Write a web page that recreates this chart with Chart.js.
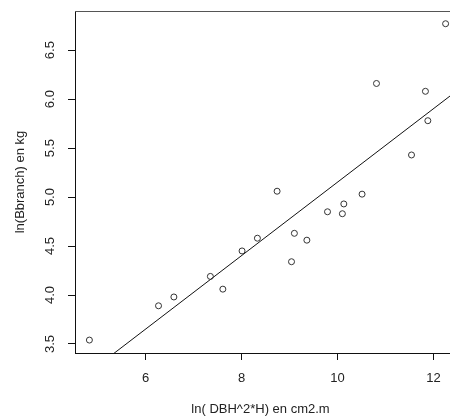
<!DOCTYPE html>
<html>
<head>
<meta charset="utf-8">
<script src="https://cdn.jsdelivr.net/npm/chart.js@4/dist/chart.umd.min.js"></script>
<style>
    html, body { margin: 0; padding: 0; background: #fff; overflow: hidden; }
    #wrap { width: 450px; height: 419px; overflow: hidden; }
</style>
</head>
<body>
<div id="wrap"><canvas id="plot" width="470" height="419"></canvas></div>
<script>
// ln(DBH^2*H) vs ln(Bbranch)
const lnDbh2H = [4.83, 6.27, 6.59, 7.35, 7.61, 8.01, 8.33, 8.74, 9.04, 9.10,
                 9.36, 9.79, 10.10, 10.13, 10.51, 10.81, 11.54, 11.83, 11.88, 12.25];
const lnBbranch = [3.54, 3.89, 3.98, 4.19, 4.06, 4.45, 4.58, 5.06, 4.34, 4.63,
                   4.56, 4.85, 4.83, 4.93, 5.03, 6.16, 5.43, 6.08, 5.78, 6.77];

// fitted line end points
const fitX = [4.53, 12.55];
const fitY = [3.10, 6.11];

const xTicks = [6, 8, 10, 12];
const yTicks = [3.5, 4.0, 4.5, 5.0, 5.5, 6.0, 6.5];
const xTitle = "ln( DBH^2*H) en cm2.m";
const yTitle = "ln(Bbranch) en kg";

const FONT = "13px 'Liberation Sans', Arial, sans-serif";
const INK = "#222";

// --- draws the R-style labels and the top border ---
const rLabels = {
    id: "rLabels",
    afterDraw(chart) {
        const { ctx, chartArea, scales } = chart;
        ctx.save();
        ctx.fillStyle = INK;
        ctx.font = FONT;
        ctx.textAlign = "center";
        ctx.textBaseline = "middle";

        xTicks.forEach((v) => {
            ctx.fillText(String(v), scales.x.getPixelForValue(v), 378);
        });
        ctx.fillText(xTitle, (chartArea.left + 450) / 2 - 2, 409);

        yTicks.forEach((v) => {
            ctx.save();
            ctx.translate(50, scales.y.getPixelForValue(v));
            ctx.rotate(-Math.PI / 2);
            ctx.fillText(v.toFixed(1), 0, 0);
            ctx.restore();
        });
        ctx.save();
        ctx.translate(20, (chartArea.top + chartArea.bottom) / 2);
        ctx.rotate(-Math.PI / 2);
        ctx.fillText(yTitle, 0, 0);
        ctx.restore();

        // top of the box
        ctx.strokeStyle = "#555";
        ctx.lineWidth = 1;
        ctx.beginPath();
        ctx.moveTo(chartArea.left, chartArea.top + 0.5);
        ctx.lineTo(chartArea.right, chartArea.top + 0.5);
        ctx.stroke();
        ctx.restore();
    },
};

new Chart(document.getElementById("plot"), {
    type: "scatter",
    data: {
        datasets: [
            {
                label: "obs",
                data: lnDbh2H.map((x, i) => ({ x, y: lnBbranch[i] })),
                pointStyle: "circle",
                pointRadius: 3,
                pointBorderWidth: 1,
                pointBorderColor: "#333",
                pointBackgroundColor: "rgba(0,0,0,0)",
            },
            {
                label: "fit",
                type: "line",
                data: fitX.map((x, i) => ({ x, y: fitY[i] })),
                borderColor: "#111",
                borderWidth: 1,
                pointRadius: 0,
                fill: false,
                clip: 0,
            },
        ],
    },
    options: {
        responsive: false,
        animation: false,
        layout: { padding: { top: 11, right: 10, left: 0, bottom: 0 } },
        plugins: { legend: { display: false }, tooltip: { enabled: false } },
        scales: {
            x: {
                type: "linear",
                min: 4.53,
                max: 12.55,
                afterBuildTicks: (s) => { s.ticks = xTicks.map((v) => ({ value: v })); },
                afterFit: (s) => { s.height = 66; },
                ticks: { display: false },
                grid: { drawOnChartArea: false, tickLength: 7, color: "#111", lineWidth: 1 },
                border: { color: "#111", width: 1 },
            },
            y: {
                type: "linear",
                min: 3.408,
                max: 6.90,
                afterBuildTicks: (s) => { s.ticks = yTicks.map((v) => ({ value: v })); },
                afterFit: (s) => { s.width = 75; },
                ticks: { display: false },
                grid: { drawOnChartArea: false, tickLength: 7, color: "#111", lineWidth: 1 },
                border: { color: "#111", width: 1 },
            },
        },
    },
    plugins: [rLabels],
});
</script>
</body>
</html>
